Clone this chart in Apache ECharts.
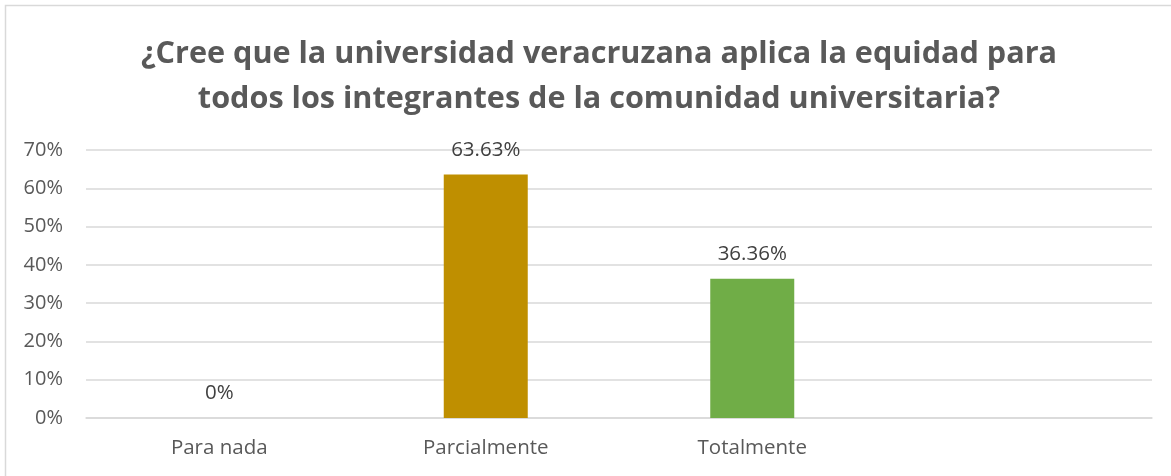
<!DOCTYPE html>
<html>
<head>
<meta charset="utf-8">
<script src="https://cdn.jsdelivr.net/npm/echarts@6/dist/echarts.min.js"></script>
<style>
html,body{margin:0;padding:0;background:#fff;}
#chart{width:1171px;height:476px;}
</style>
</head>
<body>
<div id="chart"></div>
<script>
const titleText = '¿Cree que la universidad veracruzana aplica la equidad para\ntodos los integrantes de la comunidad universitaria?';
const categories = ['Para nada', 'Parcialmente', 'Totalmente', ''];
const values = [0, 63.63, 36.36, null];
const barColors = ['#BF8F00', '#BF8F00', '#70AD47', '#70AD47'];
const yTicks = {min: 0, max: 70, interval: 10};

const chart = echarts.init(document.getElementById('chart'), null, {renderer: 'canvas'});
const option = {
  animation: false,
  backgroundColor: '#ffffff',
  title: {
    text: titleText,
    left: 594,
    textAlign: 'center',
    top: 27,
    textStyle: {
      fontFamily: 'Open Sans',
      fontWeight: 'bold',
      fontSize: 30.6,
      lineHeight: 45,
      color: '#595959'
    }
  },
  graphic: [{
    type: 'rect',
    shape: {x: 5.5, y: 5.5, width: 1200, height: 500},
    style: {fill: 'none', stroke: '#d9d9d9', lineWidth: 1.5},
    silent: true,
    z: -1
  }],
  grid: {left: 86, right: 19, top: 150, bottom: 58, containLabel: false},
  xAxis: {
    type: 'category',
    data: categories,
    axisLine: {show: true, lineStyle: {color: '#d9d9d9', width: 1.5}},
    axisTick: {show: false},
    axisLabel: {
      margin: 20,
      fontFamily: 'Open Sans',
      fontSize: 20.5,
      color: '#595959'
    }
  },
  yAxis: {
    type: 'value',
    min: yTicks.min,
    max: yTicks.max,
    interval: yTicks.interval,
    axisLine: {show: false},
    axisTick: {show: false},
    splitLine: {lineStyle: {color: '#d9d9d9', width: 1.5}},
    axisLabel: {
      margin: 23,
      fontFamily: 'Open Sans',
      fontSize: 20,
      color: '#595959',
      formatter: '{value}%'
    }
  },
  series: [{
    type: 'bar',
    data: values.map((v, i) => ({value: v, itemStyle: {color: barColors[i]}})),
    barWidth: 84,
    label: {
      show: true,
      position: 'top',
      distance: 14,
      fontFamily: 'Open Sans',
      fontSize: 20.5,
      color: '#404040',
      formatter: p => p.value === null || p.value === undefined ? '' : p.value + '%'
    }
  }]
};
chart.setOption(option);
</script>
</body>
</html>
